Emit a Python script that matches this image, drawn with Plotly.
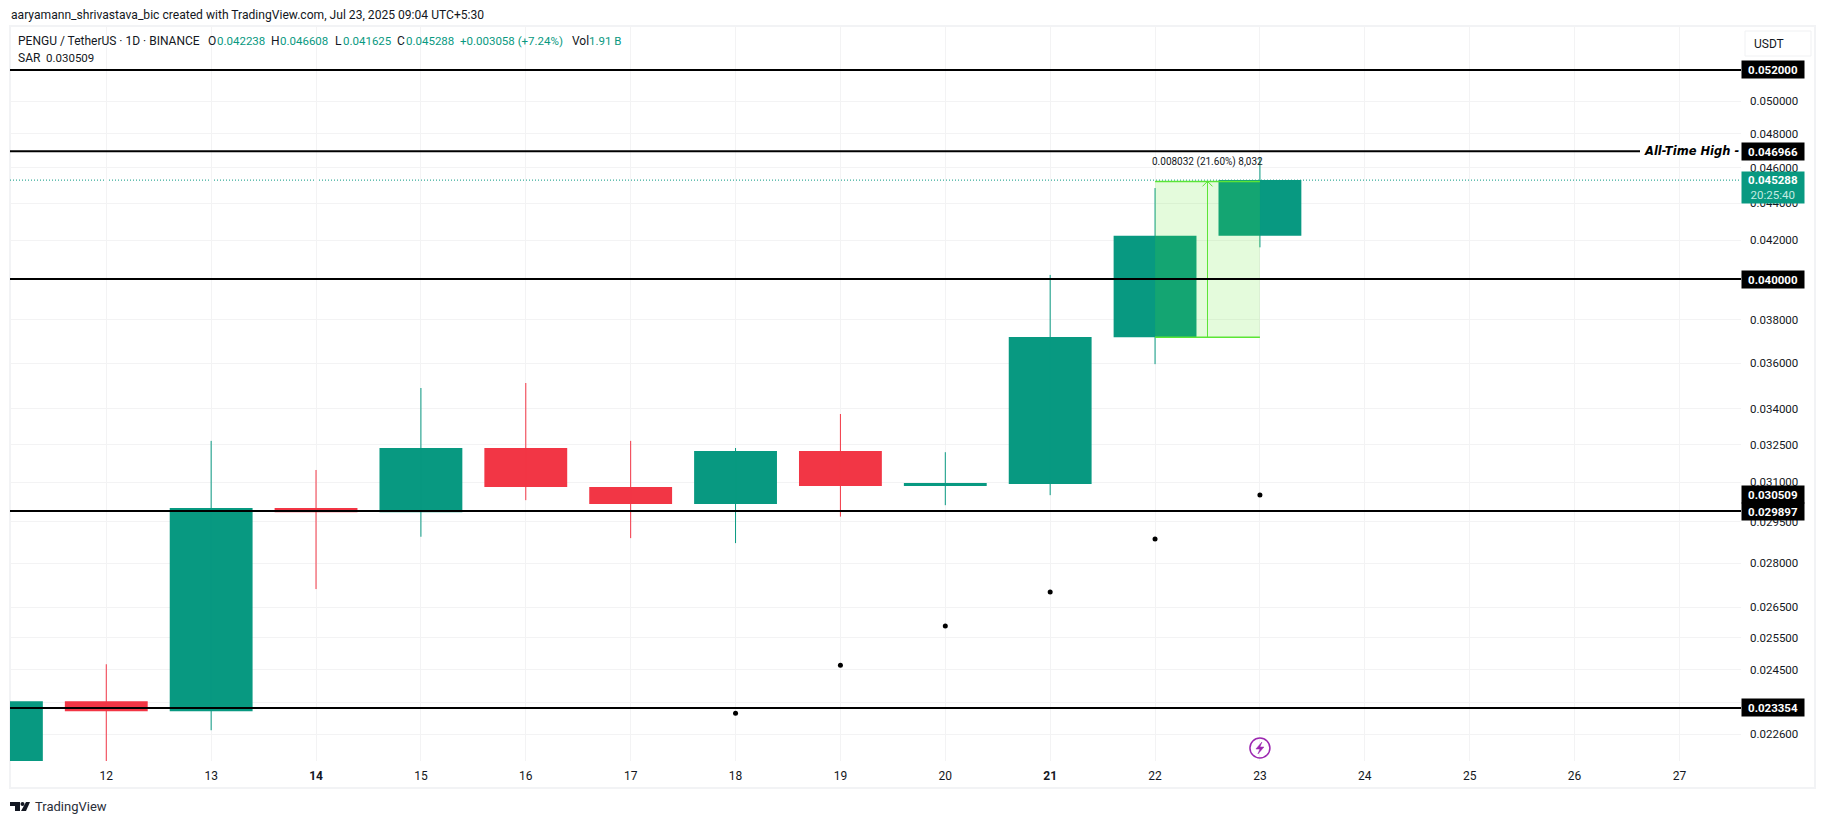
#!/usr/bin/python
import math
import plotly.graph_objects as go

days = [11, 12, 13, 14, 15, 16, 17, 18, 19, 20, 21, 22, 23]
opens = [0.0215, 0.02355, 0.02326, 0.03001, 0.02985, 0.03236, 0.03081, 0.03016, 0.03224, 0.03085, 0.03093, 0.03718, 0.042238]
highs = [0.02355, 0.02467, 0.03265, 0.03148, 0.03489, 0.03511, 0.03265, 0.03236, 0.03377, 0.03219, 0.04021, 0.04484, 0.046608]
lows = [0.0212, 0.0215, 0.02271, 0.02711, 0.02895, 0.03031, 0.02890, 0.02872, 0.02969, 0.03012, 0.03050, 0.03595, 0.041625]
closes = [0.02355, 0.02326, 0.03001, 0.02985, 0.03236, 0.03081, 0.03016, 0.03224, 0.03085, 0.03097, 0.03720, 0.042238, 0.045288]

sar_days = [18, 19, 20, 21, 22, 23]
sar_values = [0.02320, 0.02464, 0.02588, 0.02701, 0.02887, 0.030509]

x_ticks = [12, 13, 14, 15, 16, 17, 18, 19, 20, 21, 22, 23, 24, 25, 26, 27]
x_labels = ["12", "13", "<b>14</b>", "15", "16", "17", "18", "19", "20", "<b>21</b>", "22", "23", "24", "25", "26", "27"]
y_ticks = [0.052, 0.05, 0.048, 0.046, 0.044, 0.042, 0.04, 0.038, 0.036, 0.034, 0.0325, 0.031, 0.0295,
           0.028, 0.0265, 0.0255, 0.0245, 0.0235, 0.0226]

levels = [0.052, 0.04, 0.029897, 0.023354]
ath_level = 0.046966
label_levels = [0.052, 0.046966, 0.04, 0.030509, 0.029897, 0.023354]
last_price = 0.045288
countdown = "20:25:40"

range_low = 0.037184
range_high = 0.045216
range_text = "0.008032 (21.60%) 8,032"
range_days = [22, 23]

header = "aaryamann_shrivastava_bic created with TradingView.com, Jul 23, 2025 09:04 UTC+5:30"

TEAL = "#089981"
RED = "#f23645"
GRID = "#f3f3f4"
TEXT = "#131722"
TOOL = "#5be535"
FONT = "Roboto"
BODY_WIDTH = 0.79
VALUE_SIZE = 11.5

# pane edges in pixels of the 1825x824 page
LEFT, RIGHT, TOP, BOTTOM = 10, 1741, 26, 761


def px(x):
    return (x - LEFT) / (RIGHT - LEFT)


def py(y):
    return (BOTTOM - y) / (BOTTOM - TOP)


def wick_trace(rising, color):
    wick_x = []
    wick_y = []
    for d, o, h, l, c in zip(days, opens, highs, lows, closes):
        if (c >= o) == rising:
            wick_x += [d, d, None]
            wick_y += [l, h, None]
    return go.Scatter(x=wick_x, y=wick_y, mode="lines", line=dict(color=color, width=1),
                      hoverinfo="skip", showlegend=False)


colors = [TEAL if c >= o else RED for o, c in zip(opens, closes)]

fig = go.Figure()
# candlestick trace cannot get bodies this wide, so bodies are bars
fig.add_trace(go.Bar(x=days, y=[abs(c - o) for o, c in zip(opens, closes)], base=[min(o, c) for o, c in zip(opens, closes)],
                     width=BODY_WIDTH, marker=dict(color=colors, line=dict(width=0)), hoverinfo="skip", showlegend=False))
fig.add_trace(wick_trace(True, TEAL))
fig.add_trace(wick_trace(False, RED))
fig.add_trace(go.Scatter(x=sar_days, y=sar_values, mode="markers", hoverinfo="skip", showlegend=False,
                         marker=dict(color="#000000", size=5)))

shapes = []
# outer frame
shapes.append(dict(type="rect", xref="paper", yref="paper", x0=px(10), x1=px(1815), y0=py(788), y1=py(26),
                   line=dict(color="#f2f3f5", width=2), layer="below"))
# last price line
shapes.append(dict(type="line", xref="paper", yref="y", x0=0, x1=1, y0=last_price, y1=last_price,
                   line=dict(color=TEAL, width=1, dash="1px,2px"), layer="below"))
# price range tool
shapes.append(dict(type="rect", xref="x", yref="y", x0=range_days[0], x1=range_days[1], y0=range_low, y1=range_high,
                   fillcolor="rgba(90,230,40,0.16)", line=dict(width=0)))
for val in [range_low, range_high]:
    shapes.append(dict(type="line", xref="x", yref="y", x0=range_days[0], x1=range_days[1], y0=val, y1=val,
                       line=dict(color=TOOL, width=1.5)))
mid_day = sum(range_days) / 2
shapes.append(dict(type="line", xref="x", yref="y", x0=mid_day, x1=mid_day, y0=range_low, y1=range_high,
                   line=dict(color=TOOL, width=1)))
shapes.append(dict(type="path", xref="x", yref="y", xsizemode="pixel", ysizemode="pixel",
                   xanchor=mid_day, yanchor=range_high, path="M-5,-5 L0,0 L5,-5",
                   line=dict(color=TOOL, width=1)))
# horizontal levels
for val in levels:
    shapes.append(dict(type="line", xref="paper", yref="y", x0=0, x1=1, y0=val, y1=val,
                       line=dict(color="#000000", width=2)))
shapes.append(dict(type="line", xref="paper", yref="y", x0=0, x1=px(1640), y0=ath_level, y1=ath_level,
                   line=dict(color="#000000", width=2)))
# USDT box
shapes.append(dict(type="rect", xref="paper", yref="paper", x0=px(1745), x1=px(1811), y0=py(56), y1=py(31),
                   line=dict(color="#f0f1f3", width=1), fillcolor="#ffffff"))
# lightning icon
shapes.append(dict(type="circle", xref="x", yref="paper", xsizemode="pixel", ysizemode="pixel",
                   xanchor=23, yanchor=py(748), x0=-10, x1=10, y0=-10, y1=10,
                   line=dict(color="#9c27b0", width=1.5)))
shapes.append(dict(type="path", xref="x", yref="paper", xsizemode="pixel", ysizemode="pixel",
                   xanchor=23, yanchor=py(748), path="M2,6 L-4,-1 L0,-1 L-2,-6 L4,1 L0,1 Z",
                   fillcolor="#9c27b0", line=dict(color="#9c27b0", width=0.5)))
# TradingView logo
for path in ["M0,4 H10 V-5 H5 V0 H0 Z", "M16,4 H20 L16,-5 H11 Z"]:
    shapes.append(dict(type="path", xref="paper", yref="paper", xsizemode="pixel", ysizemode="pixel",
                       xanchor=px(10), yanchor=py(806), path=path,
                       fillcolor="#131722", line=dict(width=0)))
shapes.append(dict(type="circle", xref="paper", yref="paper", xsizemode="pixel", ysizemode="pixel",
                   xanchor=px(10), yanchor=py(806), x0=10.5, x1=14.5, y0=0, y1=4,
                   fillcolor="#131722", line=dict(width=0)))

annotations = []


def add_text(x, y, text, color=TEXT, size=12):
    annotations.append(dict(xref="paper", yref="paper", x=px(x), y=py(y), text=text, showarrow=False,
                            xanchor="left", yanchor="middle", align="left",
                            font=dict(family=FONT, size=size, color=color)))


add_text(9, 15, header, size=12.1)
add_text(16, 41, "PENGU / TetherUS · 1D · BINANCE")
add_text(206, 41, "O")
add_text(215, 41, f"{opens[-1]:.6f}", TEAL, VALUE_SIZE)
add_text(269, 41, "H")
add_text(278, 41, f"{highs[-1]:.6f}", TEAL, VALUE_SIZE)
add_text(333, 41, "L")
add_text(341, 41, f"{lows[-1]:.6f}", TEAL, VALUE_SIZE)
add_text(395, 41, "C")
add_text(404, 41, f"{closes[-1]:.6f}", TEAL, VALUE_SIZE)
add_text(458, 41, "+0.003058 (+7.24%)", TEAL, VALUE_SIZE)
add_text(570, 41, "Vol")
add_text(587, 41, "1.91 B", TEAL, VALUE_SIZE)
add_text(16, 58, "SAR")
add_text(44, 58, f"{sar_values[-1]:.6f}", size=VALUE_SIZE)
add_text(1752, 44, "USDT")
add_text(33, 806, "TradingView", "#2a2e39", 13)

annotations.append(dict(xref="x", yref="y", x=mid_day, y=math.log10(range_high), yshift=19, text=range_text,
                        showarrow=False, xanchor="center", font=dict(family=FONT, size=10, color=TEXT)))
annotations.append(dict(xref="paper", yref="y", x=1, y=math.log10(ath_level), text="<b><i>All-Time High -</i></b>",
                        showarrow=False, xanchor="right",
                        font=dict(family="DejaVu Sans", size=11.5, color="#000000")))
for val in label_levels:
    annotations.append(dict(xref="paper", yref="y", x=px(1773), y=math.log10(val), text=f"<b>{val:.6f}</b>",
                            showarrow=False, xanchor="center", bgcolor="#000000", width=62, height=17, borderpad=0,
                            font=dict(family=FONT, size=VALUE_SIZE, color="#ffffff")))
annotations.append(dict(xref="paper", yref="paper", x=px(1773), y=py(187.5),
                        text=f"<b>{last_price:.6f}</b><br><span style='color:#c4ebe2'>{countdown}</span>",
                        showarrow=False, xanchor="center", yanchor="middle", bgcolor=TEAL, width=62, height=31,
                        borderpad=0, font=dict(family=FONT, size=VALUE_SIZE, color="#ffffff")))

fig.update_layout(
    width=1825, height=824, autosize=False,
    margin=dict(l=LEFT, r=1825 - RIGHT, t=TOP, b=824 - BOTTOM, pad=0),
    paper_bgcolor="#ffffff", plot_bgcolor="#ffffff",
    barmode="overlay", showlegend=False,
    shapes=shapes, annotations=annotations,
    font=dict(family=FONT, size=12, color=TEXT),
    xaxis=dict(range=[11.082, 27.587], tickvals=x_ticks, ticktext=x_labels, showgrid=True, gridcolor=GRID,
               gridwidth=1, zeroline=False, showline=False, ticks="",
               ticklabelstandoff=6, tickfont=dict(family=FONT, size=12, color=TEXT)),
    yaxis=dict(type="log", side="right", range=[math.log10(0.02185), math.log10(0.05495)], tickmode="array",
               tickvals=y_ticks, ticktext=[f"{t:.6f}" for t in y_ticks], showgrid=True, gridcolor=GRID,
               gridwidth=1, zeroline=False, showline=False, ticks="", ticklabelstandoff=8,
               tickfont=dict(family=FONT, size=VALUE_SIZE, color=TEXT)),
)

fig.write_html("out.html", config=dict(displayModeBar=False),
               post_script="document.body.style.margin='0';")
